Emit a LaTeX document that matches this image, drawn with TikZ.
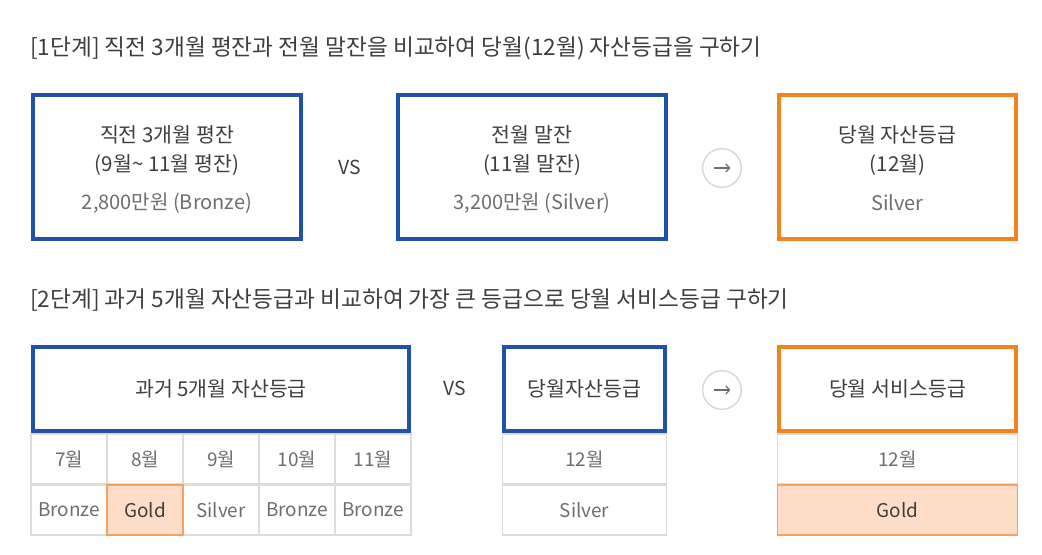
\documentclass[tikz,border=0pt]{standalone}
\usepackage{fontspec}
\setmainfont{Noto Sans CJK KR}
\usetikzlibrary{arrows.meta}
\definecolor{bblue}{HTML}{1F52AA}
\definecolor{borange}{HTML}{F0841E}
\definecolor{txt}{HTML}{3F3F3F}
\definecolor{txtl}{HTML}{6E6E6E}
\definecolor{grid}{HTML}{DCDCDC}
\definecolor{peach}{HTML}{FDDCC8}
\definecolor{peachb}{HTML}{F4A25E}
\definecolor{ring}{HTML}{D6D6D6}
\begin{document}
\begin{tikzpicture}[x=0.75pt,y=-0.75pt,
  bluebox/.style={draw=bblue,line width=3pt,inner sep=0pt},
  orangebox/.style={draw=borange,line width=3pt,inner sep=0pt},
  cell/.style={draw=grid,line width=0.9pt,inner sep=0pt,minimum height=37.5pt,text=txtl,font=\fontsize{14.2}{17}\selectfont},
  goldcell/.style={cell,fill=peach,draw=peachb,text=txt},
  title/.style={anchor=west,text=txt,font=\fontsize{17}{20}\selectfont,inner sep=0pt},
  main/.style={text=txt,font=\fontsize{15.4}{18}\selectfont,inner sep=0pt},
  val/.style={text=txtl,font=\fontsize{15}{18}\selectfont,inner sep=0pt},
  vs/.style={text=txt,font=\fontsize{14.5}{17}\selectfont,inner sep=0pt},
  ringc/.style={circle,draw=ring,line width=1pt,minimum size=29pt,inner sep=0pt},
  arrowicon/.style={draw=txtl,line width=0.9pt,-{Straight Barb[length=2.8pt,width=6pt]}}
]
\useasboundingbox[fill=white] (0,0) rectangle (1042,555);

% ---------- Step 1 ----------
\node[title] (t1) at (30,48) {[1단계] 직전 3개월 평잔과 전월 말잔을 비교하여 당월(12월) 자산등급을 구하기};

\node[bluebox,minimum width=201pt,minimum height=108pt] (b1) at (167,167) {};
\node[main] (b1a) at (167,135) {직전 3개월 평잔};
\node[main] (b1b) at (167,165) {(9월\textasciitilde{} 11월 평잔)};
\node[val]  (b1c) at (167,203) {2,800만원 (Bronze)};

\node[vs] (vs1) at (350,167) {VS};

\node[bluebox,minimum width=201pt,minimum height=108pt] (b2) at (532,167) {};
\node[main] (b2a) at (532,135) {전월 말잔};
\node[main] (b2b) at (532,165) {(11월 말잔)};
\node[val]  (b2c) at (532,203) {3,200만원 (Silver)};

\node[ringc] (c1) at (722,168) {};
\draw[arrowicon] ([xshift=-6.3pt]c1.center) -- ([xshift=6.3pt]c1.center);

\node[orangebox,minimum width=178pt,minimum height=108pt] (b3) at (897.5,167) {};
\node[main] (b3a) at (897.5,135) {당월 자산등급};
\node[main] (b3b) at (897.5,165) {(12월)};
\node[val]  (b3c) at (897.5,203) {Silver};

% ---------- Step 2 ----------
\node[title] (t2) at (30,300) {[2단계] 과거 5개월 자산등급과 비교하여 가장 큰 등급으로 당월 서비스등급 구하기};

% past 5 months table
\node[cell,minimum width=57pt] (m7)  at (69,459)  {7월};
\node[cell,minimum width=57pt] (m8)  at (145,459) {8월};
\node[cell,minimum width=57pt] (m9)  at (221,459) {9월};
\node[cell,minimum width=57pt] (m10) at (297,459) {10월};
\node[cell,minimum width=57pt] (m11) at (373,459) {11월};
\node[cell,minimum width=57pt] (g7)  at (69,510)  {Bronze};
\node[cell,minimum width=57pt] (g9)  at (221,510) {Silver};
\node[cell,minimum width=57pt] (g10) at (297,510) {Bronze};
\node[cell,minimum width=57pt] (g11) at (373,510) {Bronze};
\node[goldcell,minimum width=57pt] (g8) at (145,510) {Gold};
\node[bluebox,minimum width=282pt,minimum height=63pt] (pa) at (221,389) {};
\node[main] (pat) at (221,389) {과거 5개월 자산등급};

\node[vs] (vs2) at (455,388) {VS};

% current asset grade
\node[cell,minimum width=123pt] (cm) at (584.5,459) {12월};
\node[cell,minimum width=123pt] (cg) at (584.5,510) {Silver};
\node[bluebox,minimum width=121pt,minimum height=63pt] (ca) at (584.5,389) {};
\node[main] (cat) at (584.5,389) {당월자산등급};

\node[ringc] (c2) at (722,390) {};
\draw[arrowicon] ([xshift=-6.3pt]c2.center) -- ([xshift=6.3pt]c2.center);

% current service grade
\node[cell,minimum width=180.5pt] (sm) at (897.5,459) {12월};
\node[goldcell,minimum width=180.5pt] (sg) at (897.5,510) {Gold};
\node[orangebox,minimum width=178pt,minimum height=63pt] (sa) at (897.5,389) {};
\node[main] (sat) at (897.5,389) {당월 서비스등급};
\end{tikzpicture}
\end{document}
